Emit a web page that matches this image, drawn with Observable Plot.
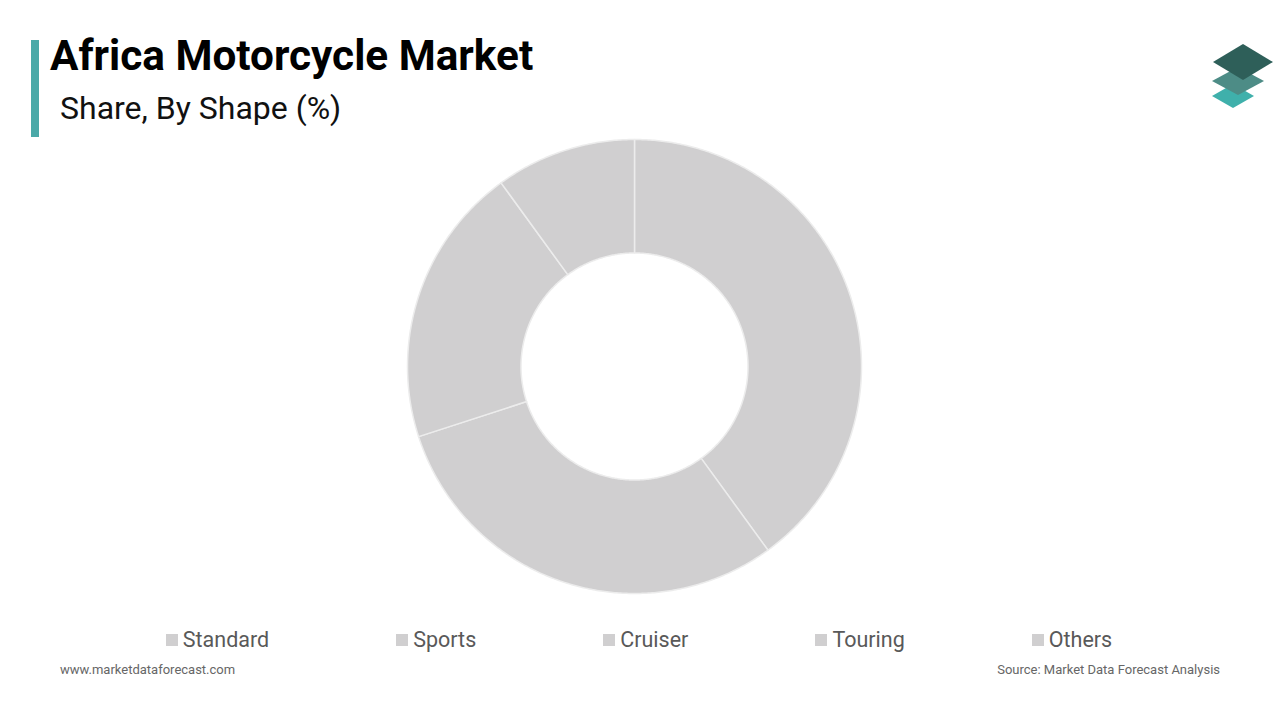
<!DOCTYPE html>
<html>
<head>
<meta charset="utf-8">
<script src="https://cdn.jsdelivr.net/npm/d3@7"></script>
<script src="https://cdn.jsdelivr.net/npm/@observablehq/plot@0.6"></script>
<style>
  html, body { margin: 0; padding: 0; background: #ffffff; }
  #page { position: relative; width: 1280px; height: 720px; overflow: hidden; font-family: Roboto, "Noto Sans", sans-serif; }
  #bar { position: absolute; left: 31px; top: 40px; width: 8px; height: 97px; background: #4aa9a8; }
  #title { position: absolute; left: 50px; top: 30px; font-size: 42.3px; font-weight: 700; color: #000; line-height: 52px; white-space: nowrap; }
  #subtitle { position: absolute; left: 60px; top: 87px; font-size: 32px; font-weight: 400; color: #111; line-height: 42px; white-space: nowrap; }
  #chart { position: absolute; left: 0; top: 130px; }
  #legend { position: absolute; left: 0; width: 1278px; top: 628px; display: flex; justify-content: center; gap: 127px; font-size: 21.5px; color: #595959; line-height: 24px; }
  .item { display: flex; align-items: center; white-space: nowrap; }
  .sw { width: 12px; height: 12px; margin-right: 5px; display: inline-block; }
  #site { position: absolute; left: 60px; top: 662px; font-size: 13px; color: #666; }
  #source { position: absolute; right: 60px; top: 662px; font-size: 13px; color: #666; }
  #logo { position: absolute; left: 1200px; top: 36px; }
</style>
</head>
<body>
<div id="page">
  <div id="bar"></div>
  <div id="title">Africa Motorcycle Market</div>
  <div id="subtitle">Share, By Shape (%)</div>
  <svg id="logo" width="80" height="80" viewBox="1200 36 80 80">
    <polygon points="1212,96 1233,84 1254,96 1233,108" fill="#3fb0ab"/>
    <polygon points="1212,81 1238,67 1264,81 1238,95" fill="#4d8c86"/>
    <polygon points="1213,62 1243,44 1273,62 1243,80" fill="#2e5f59"/>
  </svg>
  <div id="chart"></div>
  <div id="legend"></div>
  <div id="site">www.marketdataforecast.com</div>
  <div id="source">Source: Market Data Forecast Analysis</div>
</div>
<script>
// ---- data ----
const categories = ["Standard", "Sports", "Cruiser", "Touring", "Others"];
const shares = [40, 30, 20, 10, 0];
const sliceColor = "#d0cfd0";
const innerRatio = 0.5;

// ---- build slice polygons (unit circle, screen orientation: y down) from pie angles ----
const pie = d3.pie().sort(null).value(d => d.value);
const arcs = pie(categories.map((c, i) => ({name: c, value: shares[i]})));

function slicePolygon(a0, a1) {
  const n = Math.max(2, Math.ceil((a1 - a0) / (Math.PI / 360)));
  const outer = [], inner = [];
  for (let k = 0; k <= n; k++) {
    const a = a0 + (a1 - a0) * k / n;
    outer.push([Math.sin(a), -Math.cos(a)]);
    inner.push([innerRatio * Math.sin(a), -innerRatio * Math.cos(a)]);
  }
  const ring = outer.concat(inner.reverse());
  ring.push(ring[0]);
  return ring;
}

const features = arcs.filter(a => a.data.value > 0).map(a => ({
  type: "Feature",
  properties: {name: a.data.name, value: a.data.value},
  geometry: {type: "Polygon", coordinates: [slicePolygon(a.startAngle, a.endAngle)]}
}));

const chart = Plot.plot({
  width: 1280,
  height: 480,
  marginLeft: 407,
  marginRight: 419,
  marginTop: 9,
  marginBottom: 17,
  projection: {
    type: "identity",
    domain: {type: "MultiPoint", coordinates: [[-1, -1], [1, 1]]}
  },
  color: {domain: categories, range: categories.map(() => sliceColor)},
  marks: [
    Plot.geo(features, {
      fill: d => d.properties.name,
      stroke: "#ececec",
      strokeWidth: 1.5
    })
  ]
});
document.getElementById("chart").appendChild(chart);

// ---- legend ----
const legend = document.getElementById("legend");
categories.forEach(c => {
  const it = document.createElement("div");
  it.className = "item";
  const sw = document.createElement("span");
  sw.className = "sw";
  sw.style.background = chart.scale("color").apply(c);
  it.appendChild(sw);
  it.appendChild(document.createTextNode(c));
  legend.appendChild(it);
});
</script>
</body>
</html>
